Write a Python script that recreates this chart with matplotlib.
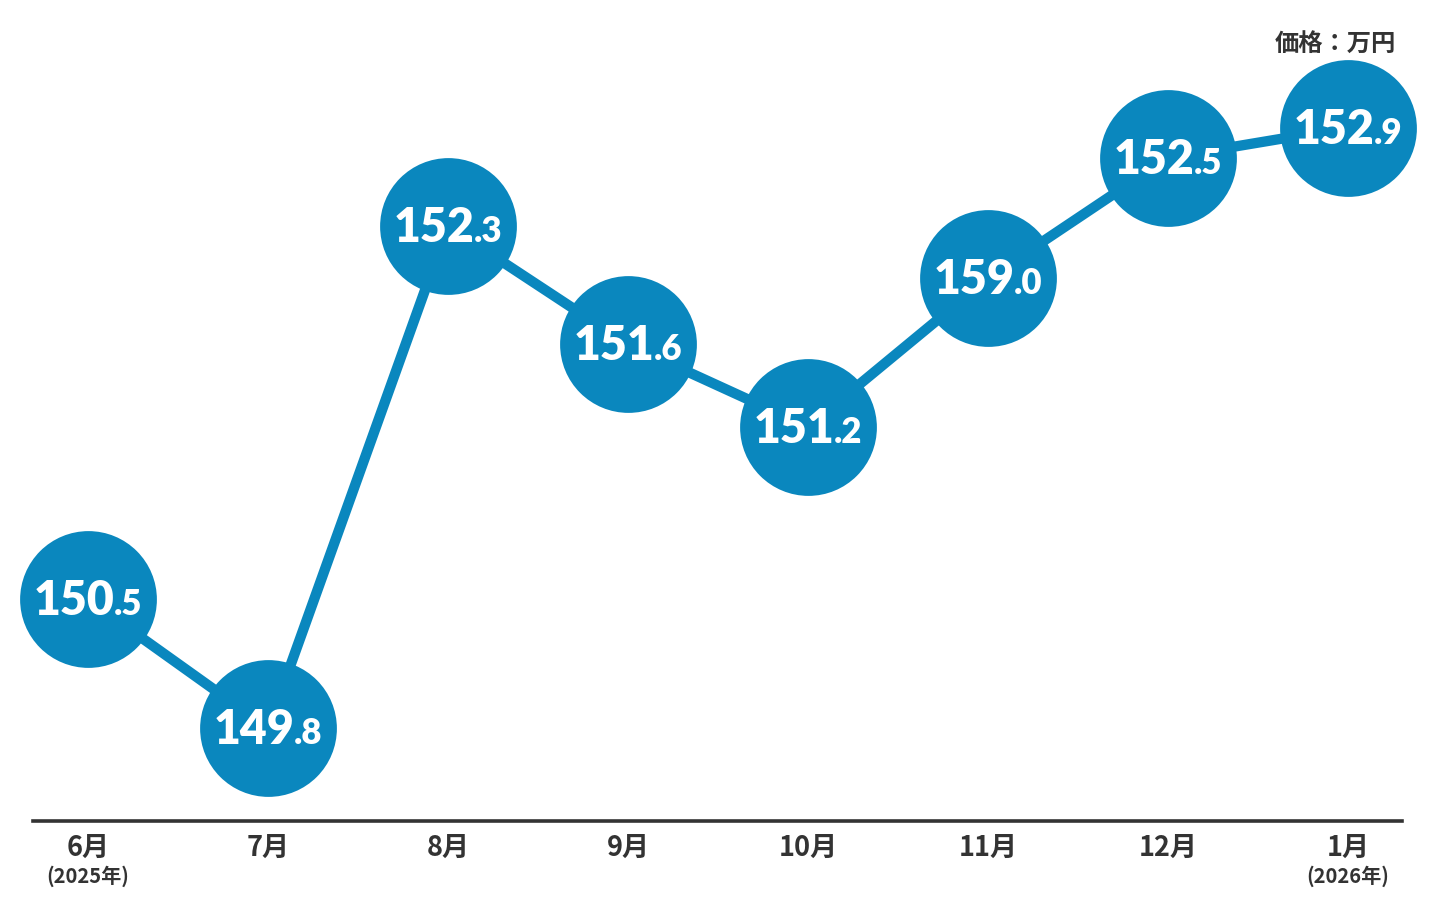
import matplotlib
matplotlib.use("Agg")
import matplotlib.pyplot as plt
from matplotlib.lines import Line2D

# ---- data ----
months = ["6月", "7月", "8月", "9月", "10月", "11月", "12月", "1月"]
year_notes = ["(2025年)", "", "", "", "", "", "", "(2026年)"]
values = ["150.5", "149.8", "152.3", "151.6", "151.2", "159.0", "152.5", "152.9"]
# vertical levels of the points as drawn in the picture (price, 万円)
levels = [150.44, 149.80, 152.30, 151.71, 151.30, 152.04, 152.64, 152.79]
unit_label = "価格：万円"

BLUE = "#0A87BE"
DARK = "#333333"
W, H, DPI = 1436, 914, 100

fig = plt.figure(figsize=(W / DPI, H / DPI), dpi=DPI)
ax = fig.add_axes([0, 0, 1, 1])
ax.set_axis_off()

x = list(range(len(values)))
ax.plot(x, levels, color=BLUE, lw=7.4, solid_capstyle="round", zorder=2)
ax.scatter(x, levels, s=9700, color=BLUE, zorder=3, linewidths=0)

# axes scale: 180 px per month, first month at 88 px
ax.set_xlim(-88 / 180, 7 + (W - 1348) / 180)
ppu = 200.8
ax.set_ylim(149.80 - (H - 728) / ppu, 149.80 + 728 / ppu)

# baseline
fig.add_artist(Line2D([33 / W, 1402 / W], [1 - 821 / H, 1 - 821 / H],
                      color=DARK, lw=2.6, transform=fig.transFigure))

num_font = dict(family=["Lato", "DejaVu Sans"], weight="heavy", color="white")
texts = []
for i, v in enumerate(values):
    ip, dp = v.split(".")
    t1 = ax.annotate(ip, xy=(i, levels[i]), xytext=(0, 0), textcoords="offset points",
                     ha="left", va="baseline", fontsize=33.5, zorder=4, **num_font)
    t2 = ax.annotate("." + dp, xy=(i, levels[i]), xytext=(0, 0), textcoords="offset points",
                     ha="left", va="baseline", fontsize=25, zorder=4, **num_font)
    texts.append((t1, t2))

fig.canvas.draw()
r = fig.canvas.get_renderer()
for t1, t2 in texts:
    w1 = t1.get_window_extent(r).width
    w2 = t2.get_window_extent(r).width
    gap = 0
    tot = w1 + w2 + gap
    k = 72 / DPI
    dy = -16 * k
    t1.xyann = (-tot / 2 * k, dy)
    t2.xyann = ((-tot / 2 + w1 + gap) * k, dy)

cjk = ["Noto Sans CJK JP", "DejaVu Sans"]
for i, (m, yn) in enumerate(zip(months, year_notes)):
    xf = ax.transData.transform((i, 0))[0] / W
    fig.text(xf, 1 - 848 / H, m, ha="center", va="center", fontsize=19.5,
             fontweight="bold", color=DARK, family=cjk)
    if yn:
        fig.text(xf, 1 - 876 / H, yn, ha="center", va="center", fontsize=14.5,
                 fontweight="bold", color=DARK, family=cjk)

fig.text(1396 / W, 1 - 45 / H, unit_label, ha="right", va="center", fontsize=17.5,
         fontweight="bold", color=DARK, family=cjk)

fig.savefig("out.png", dpi=DPI, facecolor="white")
